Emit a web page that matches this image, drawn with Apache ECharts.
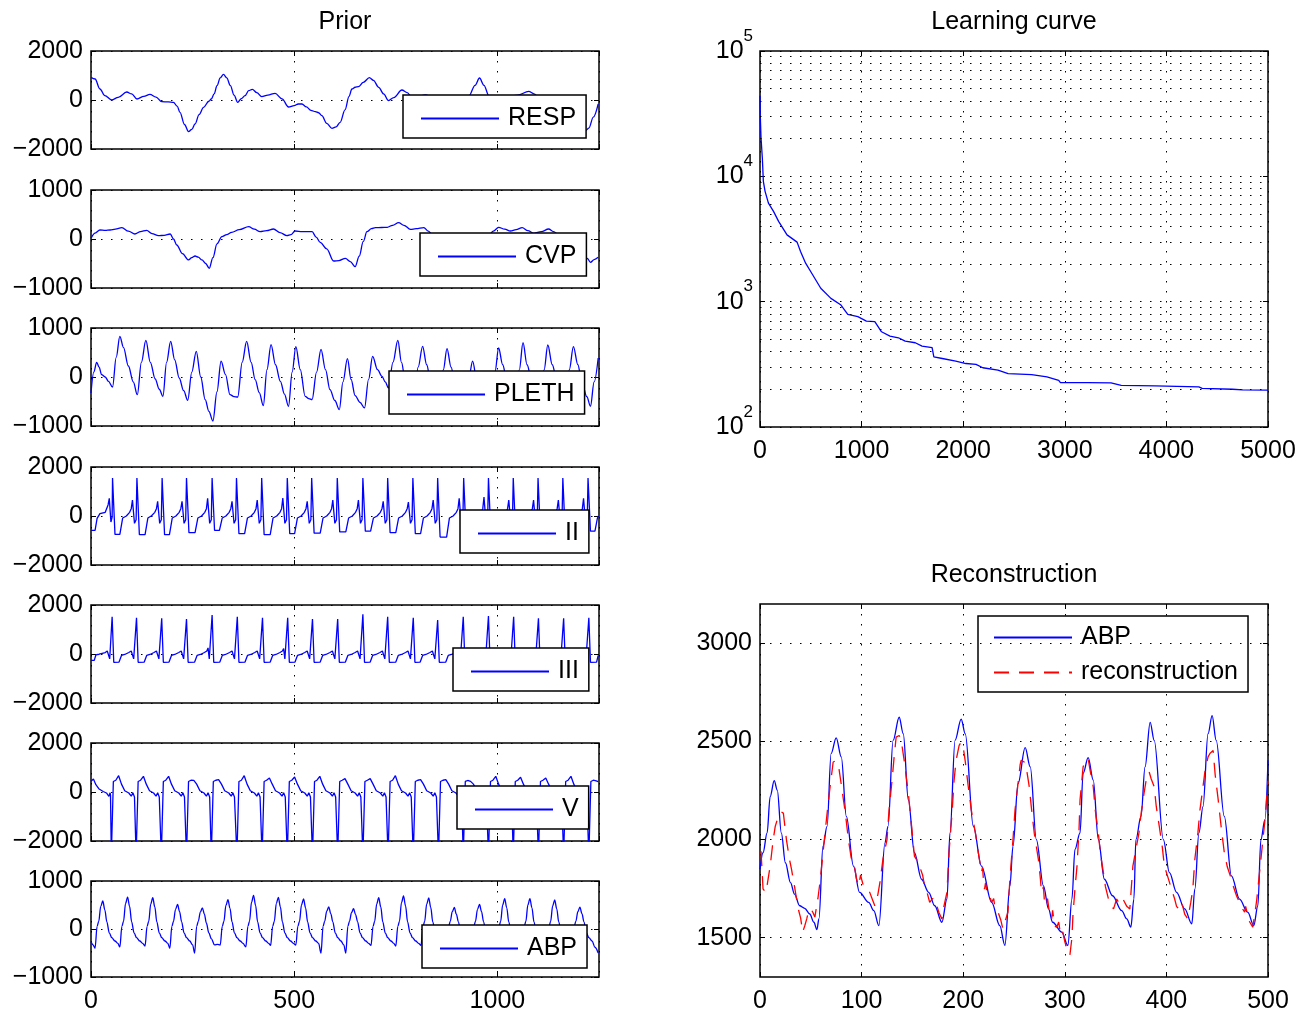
<!DOCTYPE html>
<html>
<head>
<meta charset="utf-8">
<title>Prior / Learning curve / Reconstruction</title>
<script src="https://cdn.jsdelivr.net/npm/echarts@6/dist/echarts.min.js"></script>
<style>
  html, body { margin: 0; padding: 0; background: #fff; }
  #chart { width: 1305px; height: 1014px; }
</style>
</head>
<body>
<div id="chart"></div>
<script>
// ---- data: [sample, value] ----
const respData = [[0,925],[10,857],[22,450],[34,177],[51,0],[67,109],[88,326],[100,250],[113,41],[130,150],[145,231],[160,120],[174,-68],[190,-80],[203,-95],[212,-250],[219,-503],[230,-1000],[240,-1292],[248,-1200],[256,-979],[266,-600],[277,-299],[290,-50],[296,41],[303,250],[310,585],[318,900],[326,1047],[334,900],[343,585],[352,200],[361,-95],[370,60],[379,177],[388,380],[397,435],[408,300],[420,136],[435,200],[453,272],[470,50],[486,-286],[500,-230],[510,-163],[519,-163],[530,-280],[541,-420],[552,-476],[560,-520],[568,-639],[580,-950],[593,-1156],[603,-1100],[613,-911],[625,-400],[635,150],[642,449],[650,520],[658,544],[670,720],[685,911],[695,800],[708,517],[720,250],[732,-27],[745,100],[765,408],[778,300],[790,109],[805,150],[823,204],[840,120],[860,20],[880,40],[905,177],[930,170],[945,600],[956,898],[967,600],[979,177],[995,150],[1011,177],[1030,150],[1050,200],[1077,354],[1090,250],[1102,109],[1120,-40],[1140,-120],[1160,-280],[1180,-500],[1200,-850],[1217,-1251],[1225,-1150],[1236,-700],[1248,-163]];

const cvpData = [[0,14],[10,120],[22,184],[35,175],[47,184],[60,200],[76,231],[92,160],[108,102],[122,150],[137,177],[150,110],[166,68],[180,75],[195,102],[203,0],[211,-122],[225,-300],[240,-428],[248,-380],[256,-347],[264,-370],[273,-428],[282,-500],[291,-598],[300,-380],[310,-100],[322,48],[334,90],[346,136],[365,190],[388,252],[402,200],[416,150],[432,170],[449,204],[465,130],[482,68],[492,90],[502,163],[520,150],[544,150],[554,40],[564,-68],[580,-200],[597,-449],[610,-440],[626,-394],[638,-460],[650,-564],[660,-350],[670,-50],[679,150],[690,210],[700,231],[715,235],[729,238],[742,280],[757,333],[770,280],[786,197],[800,210],[819,231],[830,160],[839,102],[860,60],[880,70],[910,60],[940,60],[965,70],[979,82],[990,160],[1003,238],[1018,200],[1032,163],[1046,190],[1061,231],[1075,170],[1090,116],[1108,150],[1126,204],[1138,150],[1151,82],[1170,0],[1190,-150],[1205,-300],[1221,-394],[1229,-476],[1238,-420],[1248,-374]];

const plethData = [[0,-326],[7,100],[14,299],[20,200],[26,48],[35,0],[43,-88],[53,-204],[62,400],[71,830],[80,600],[92,224],[104,-100],[114,-360],[124,300],[135,748],[146,300],[158,-41],[168,-250],[177,-394],[186,300],[196,728],[206,350],[217,-20],[228,-280],[238,-476],[248,100],[259,524],[270,0],[281,-462],[290,-700],[300,-898],[310,-300],[320,326],[331,50],[342,-360],[352,-400],[361,-408],[372,300],[383,728],[394,300],[404,-54],[414,-320],[424,-585],[433,150],[443,660],[454,250],[466,-88],[476,-350],[486,-598],[495,100],[504,619],[515,150],[527,-394],[536,-440],[544,-462],[555,100],[566,564],[577,150],[588,-258],[600,-480],[611,-666],[620,-100],[631,374],[640,-50],[650,-381],[662,-520],[673,-632],[683,-50],[693,422],[705,150],[716,14],[724,-100],[732,-224],[743,300],[755,748],[764,300],[773,-54],[784,-300],[795,-400],[805,200],[816,626],[826,250],[836,-100],[848,-380],[858,-400],[867,150],[876,578],[886,200],[896,-150],[908,-380],[920,-400],[930,0],[939,326],[950,-100],[962,-380],[984,-400],[994,100],[1003,592],[1013,250],[1024,-100],[1035,-380],[1045,-420],[1054,150],[1063,700],[1073,250],[1085,-100],[1096,-380],[1106,-420],[1115,150],[1124,653],[1135,250],[1147,-100],[1158,-380],[1168,-420],[1177,150],[1187,619],[1198,250],[1208,-120],[1220,-400],[1229,-598],[1238,-100],[1248,388]];

const iiData = [[0,-585],[10,-585],[15,-100],[22,100],[35,150],[42,450],[45,720],[49,-245],[52,-41],[53,1550],[57,1550],[59,-750],
[71,-750],[78,-80],[87,0],[95,150],[99,300],[102,650],[107,-300],[111,-150],[113,1550],[117,1550],[119,-760],
[133,-760],[140,-80],[149,10],[157,150],[161,300],[164,600],[169,-300],[173,-150],[175,1550],[179,1550],[181,-760],
[193,-760],[200,-80],[209,0],[217,150],[221,300],[224,600],[229,-300],[233,-150],[235,1550],[239,1550],[241,-680],
[256,-680],[263,-80],[272,0],[280,150],[284,300],[287,720],[292,-300],[296,-150],[298,1550],[302,1550],[304,-585],
[316,-585],[323,-80],[332,0],[340,150],[344,300],[347,600],[352,-300],[356,-150],[358,1550],[362,1550],[364,-720],
[378,-720],[385,-80],[394,0],[402,150],[406,300],[409,650],[414,-300],[418,-150],[420,1550],[424,1550],[426,-760],
[441,-760],[448,-80],[457,0],[465,150],[469,300],[472,735],[477,-300],[481,-150],[483,1550],[487,1550],[489,-720],
[501,-720],[508,-80],[517,0],[525,150],[529,300],[532,600],[537,-300],[541,-150],[543,1550],[547,1550],[549,-700],
[564,-700],[571,-80],[580,0],[588,150],[592,300],[595,650],[600,-300],[604,-150],[606,1550],[610,1550],[612,-650],
[627,-650],[634,-80],[643,0],[651,150],[655,300],[658,650],[663,-300],[667,-150],[669,1550],[673,1550],[675,-620],
[688,-620],[695,-80],[704,0],[712,150],[716,300],[719,600],[724,-300],[728,-150],[730,1550],[734,1550],[736,-680],
[750,-680],[757,-80],[766,0],[774,150],[778,300],[781,570],[786,-300],[790,-150],[792,1550],[796,1550],[798,-720],
[811,-720],[818,-80],[827,0],[835,150],[839,300],[842,650],[847,-300],[851,-150],[853,1550],[857,1550],[859,-860],
[875,-860],[882,-80],[891,0],[899,150],[903,300],[906,720],[911,-300],[915,-150],[917,1550],[921,1550],[923,-750],
[936,-750],[943,-80],[952,0],[960,150],[964,300],[967,775],[972,-300],[976,-150],[978,1550],[982,1550],[984,-750],
[997,-750],[1004,-80],[1013,0],[1021,150],[1025,300],[1028,650],[1033,-300],[1037,-150],[1039,1550],[1043,1550],[1045,-750],
[1058,-750],[1065,-80],[1074,0],[1082,150],[1086,300],[1089,650],[1094,-300],[1098,-150],[1100,1550],[1104,1550],[1106,-750],
[1119,-750],[1126,-80],[1135,0],[1143,150],[1147,300],[1150,650],[1155,-300],[1159,-150],[1161,1550],[1165,1550],[1167,-750],
[1181,-750],[1188,-80],[1197,0],[1205,150],[1209,300],[1212,720],[1217,-300],[1221,-150],[1223,1550],[1227,1550],[1229,-620],[1240,-620],[1246,-100],[1248,0]];

const iiiData = [[0,-258],[8,-258],[12,-40],[20,-10],[35,60],[40,120],[43,190],[46,-200],[50,-120],[52,1523],[54,1523],[56,-340],
[69,-330],[75,-60],[83,-20],[93,60],[99,120],[102,200],[105,-200],[109,-120],[112,1482],[114,1482],[116,-340],
[131,-330],[137,-60],[145,-20],[155,60],[161,120],[164,200],[167,-200],[171,-120],[174,1455],[176,1455],[178,-340],
[192,-330],[198,-60],[206,-20],[216,60],[222,120],[225,200],[228,-200],[232,-120],[235,1428],[237,1428],[239,-340],
[255,-330],[261,-60],[269,-20],[279,60],[285,120],[288,250],[291,-200],[295,-120],[298,1591],[300,1591],[302,-340],
[317,-330],[323,-60],[331,-20],[341,60],[347,120],[350,200],[353,-200],[357,-120],[360,1523],[362,1523],[364,-340],
[379,-330],[385,-60],[393,-20],[403,60],[409,120],[412,200],[415,-200],[419,-120],[422,1482],[424,1482],[426,-340],
[441,-330],[447,-60],[455,-20],[465,60],[471,120],[474,220],[477,-200],[481,-120],[484,1482],[486,1482],[488,-340],
[502,-330],[508,-60],[516,-20],[526,60],[532,120],[535,200],[538,-200],[542,-120],[545,1428],[547,1428],[549,-340],
[564,-330],[570,-60],[578,-20],[588,60],[594,120],[597,200],[600,-200],[604,-120],[607,1428],[609,1428],[611,-340],
[626,-330],[632,-60],[640,-20],[650,60],[656,120],[659,200],[662,-200],[666,-120],[669,1618],[671,1618],[673,-340],
[687,-330],[693,-60],[701,-20],[711,60],[717,120],[720,200],[723,-200],[727,-120],[730,1523],[732,1523],[734,-340],
[750,-330],[756,-60],[764,-20],[774,60],[780,120],[783,200],[786,-200],[790,-120],[793,1482],[795,1482],[797,-340],
[810,-330],[816,-60],[824,-20],[834,60],[840,120],[843,200],[846,-200],[850,-120],[853,1387],[855,1387],[857,-340],
[873,-330],[879,-60],[887,-20],[897,60],[903,120],[906,200],[909,-200],[913,-120],[916,1523],[918,1523],[920,-340],
[935,-330],[941,-60],[949,-20],[959,60],[965,120],[968,200],[971,-200],[975,-120],[978,1550],[980,1550],[982,-340],
[997,-330],[1003,-60],[1011,-20],[1021,60],[1027,120],[1030,200],[1033,-200],[1037,-120],[1040,1523],[1042,1523],[1044,-340],
[1058,-330],[1064,-60],[1072,-20],[1082,60],[1088,120],[1091,200],[1094,-200],[1098,-120],[1101,1455],[1103,1455],[1105,-340],
[1120,-330],[1126,-60],[1134,-20],[1144,60],[1150,120],[1153,200],[1156,-200],[1160,-120],[1163,1455],[1165,1455],[1167,-340],
[1182,-330],[1188,-60],[1196,-20],[1206,60],[1212,120],[1215,200],[1218,-200],[1222,-120],[1225,1482],[1227,1482],[1229,-340],[1244,-330],[1248,-60]];

const vData = [[0,435],[6,530],[12,300],[20,120],[30,20],[38,-40],[44,-177],[47,-30],
[48,-150],[50,-2600],[53,-2600],[55,430],[61,480],[68,666],[75,320],[83,50],[93,-40],[99,-170],[103,-30],[107,-200],
[109,-150],[111,-2600],[114,-2600],[116,430],[122,480],[129,640],[136,320],[144,50],[154,-40],[160,-170],[164,-30],[168,-200],
[171,-150],[173,-2600],[176,-2600],[178,430],[184,480],[191,640],[198,320],[206,50],[216,-40],[222,-170],[226,-30],[230,-200],
[233,-150],[235,-2600],[238,-2600],[240,430],[246,480],[253,476],[260,320],[268,50],[278,-40],[284,-170],[288,-30],[292,-200],
[294,-150],[296,-2600],[299,-2600],[301,430],[307,480],[314,503],[321,320],[329,50],[339,-40],[345,-170],[349,-30],[353,-200],
[357,-150],[359,-2600],[362,-2600],[364,430],[370,480],[377,666],[384,320],[392,50],[402,-40],[408,-170],[412,-30],[416,-200],
[419,-150],[421,-2600],[424,-2600],[426,430],[432,480],[439,571],[446,320],[454,50],[464,-40],[470,-170],[474,-30],[478,-200],
[481,-150],[483,-2600],[486,-2600],[488,430],[494,480],[501,612],[508,320],[516,50],[526,-40],[532,-170],[536,-30],[540,-200],
[543,-150],[545,-2600],[548,-2600],[550,430],[556,480],[563,640],[570,320],[578,50],[588,-40],[594,-170],[598,-30],[602,-200],
[605,-150],[607,-2600],[610,-2600],[612,430],[618,480],[625,544],[632,320],[640,50],[650,-40],[656,-170],[660,-30],[664,-200],
[667,-150],[669,-2600],[672,-2600],[674,430],[680,480],[687,544],[694,320],[702,50],[712,-40],[718,-170],[722,-30],[726,-200],
[729,-150],[731,-2600],[734,-2600],[736,430],[742,480],[749,666],[756,320],[764,50],[774,-40],[780,-170],[784,-30],[788,-200],
[791,-150],[793,-2600],[796,-2600],[798,430],[804,480],[811,503],[818,320],[826,50],[836,-40],[842,-170],[846,-30],[850,-200],
[853,-150],[855,-2600],[858,-2600],[860,430],[866,480],[873,503],[880,320],[888,50],[898,-40],[904,-170],[908,-30],[912,-200],
[914,-150],[916,-2600],[919,-2600],[921,430],[927,470],[934,435],[941,320],[949,50],[959,-40],[965,-170],[969,-30],[973,-200],
[976,-150],[978,-2600],[981,-2600],[983,430],[989,480],[996,640],[1003,320],[1011,50],[1021,-40],[1027,-170],[1031,-30],[1035,-200],
[1037,-150],[1039,-2600],[1042,-2600],[1044,430],[1050,480],[1057,600],[1064,320],[1072,50],[1082,-40],[1088,-170],[1092,-30],[1096,-200],
[1099,-150],[1101,-2600],[1104,-2600],[1106,430],[1112,480],[1119,571],[1126,320],[1134,50],[1144,-40],[1150,-170],[1154,-30],[1158,-200],
[1161,-150],[1163,-2600],[1166,-2600],[1168,430],[1174,480],[1181,640],[1188,320],[1196,50],[1206,-40],[1212,-170],[1216,-30],[1220,-200],
[1223,-150],[1225,-2600],[1228,-2600],[1230,430],[1236,480],[1243,450],[1248,420]];

const abpData = [[0,-260],[5,-330],
[10,-401],[15,54],[19,160],[24,470],[29,585],[34,400],[39,150],[45,-80],[51,-180],[59,-250],[66,-300],
[71,-374],[76,54],[80,160],[85,530],[90,666],[95,470],[100,150],[106,-80],[112,-180],[120,-250],[127,-300],
[133,-354],[138,54],[142,160],[147,520],[152,653],[157,460],[162,150],[168,-80],[174,-180],[182,-250],[189,-300],
[194,-401],[199,54],[203,160],[208,410],[213,510],[218,360],[223,150],[229,-80],[235,-180],[243,-250],[250,-330],
[255,-503],[260,54],[264,160],[269,350],[274,442],[279,310],[284,120],[290,-80],[296,-200],[304,-330],[311,-320],
[318,-333],[323,54],[327,160],[332,490],[337,612],[342,430],[347,150],[353,-80],[359,-180],[367,-250],[374,-300],
[381,-374],[386,54],[390,160],[395,560],[400,700],[405,490],[410,150],[416,-80],[422,-180],[430,-250],[437,-300],
[442,-340],[447,54],[451,160],[456,530],[461,660],[466,460],[471,150],[477,-80],[483,-180],[491,-250],[498,-300],
[504,-333],[509,54],[513,160],[518,500],[523,626],[528,440],[533,150],[539,-80],[545,-180],[553,-250],[560,-300],
[566,-503],[571,54],[575,160],[580,370],[585,462],[590,320],[595,150],[601,-80],[607,-180],[615,-250],[622,-330],
[627,-503],[632,54],[636,160],[641,340],[646,422],[651,300],[656,150],[662,-80],[668,-180],[676,-250],[683,-300],
[689,-340],[694,54],[698,160],[703,520],[708,653],[713,460],[718,150],[724,-80],[730,-180],[738,-250],[745,-300],
[750,-354],[755,54],[759,160],[764,550],[769,687],[774,480],[779,150],[785,-80],[791,-180],[799,-250],[806,-300],
[812,-340],[817,54],[821,160],[826,520],[831,646],[836,450],[841,150],[847,-80],[853,-180],[861,-250],[868,-300],
[875,-380],[880,54],[884,160],[889,360],[894,449],[899,310],[904,150],[910,-80],[916,-180],[924,-250],[931,-300],
[937,-374],[942,54],[946,160],[951,410],[956,510],[961,360],[966,150],[972,-80],[978,-180],[986,-250],[993,-300],
[999,-354],[1004,54],[1008,160],[1013,500],[1018,632],[1023,440],[1028,150],[1034,-80],[1040,-180],[1048,-250],[1055,-300],
[1061,-354],[1066,54],[1070,160],[1075,500],[1080,632],[1085,440],[1090,150],[1096,-80],[1102,-180],[1110,-250],[1117,-300],
[1122,-374],[1127,54],[1131,160],[1136,480],[1141,605],[1146,420],[1151,150],[1157,-80],[1163,-180],[1171,-250],[1178,-300],
[1184,-380],[1189,54],[1193,160],[1198,360],[1203,456],[1208,320],[1213,150],[1219,-80],[1225,-180],[1233,-250],[1240,-380],[1248,-503]];

const learnData = [[0,44000],[3,30000],[10,20270],[23,14000],[33,9120],[50,7590],[83,6120],[133,5250],[183,4370],[266,3410],[365,2985],[399,2510],[449,2027],[515,1655],[598,1279],[698,1063],[797,940],[864,792],[963,759],[1047,700],[1130,692],[1196,575],[1279,531],[1362,515],[1429,484],[1528,470],[1595,442],[1694,429],[1711,363],[1794,352],[1927,335],[2027,321],[2126,316],[2193,297],[2342,284],[2442,267],[2674,262],[2824,251],[2940,236],[2957,226],[3223,226],[3455,225],[3555,215],[3887,213],[4319,209],[4352,203],[4651,200],[4751,198],[5000,197]];

const reconAbp = [[0,1849],[3,1933],[7,2034],[10,2219],[14,2300],[17,2252],[21,2034],[25,1882],[30,1781],[34,1722],[39,1663],[44,1650],[49,1621],[53,1579],[56,1541],[58,1596],[62,1966],[66,2067],[70,2438],[75,2518],[80,2421],[85,2118],[92,1865],[98,1731],[107,1680],[112,1638],[117,1562],[123,1983],[126,2067],[131,2505],[137,2623],[141,2539],[146,2202],[152,1933],[159,1798],[166,1731],[172,1663],[179,1579],[184,1697],[187,2034],[192,2505],[198,2614],[202,2539],[210,2067],[218,1865],[228,1680],[236,1562],[241,1461],[246,1764],[249,1966],[254,2286],[261,2468],[266,2370],[272,2000],[279,1764],[284,1647],[288,1579],[297,1529],[303,1461],[307,1697],[310,1950],[315,2034],[318,2337],[323,2417],[328,2303],[333,2000],[339,1798],[347,1714],[356,1638],[361,1596],[365,1554],[368,1697],[370,2000],[375,2118],[379,2370],[384,2597],[388,2505],[397,2000],[403,1832],[410,1731],[418,1647],[425,1571],[428,1748],[432,2034],[436,2168],[441,2539],[445,2631],[449,2505],[457,2118],[464,1815],[472,1697],[480,1630],[486,1562],[490,1663],[493,2000],[497,2101],[500,2404]];

const reconEst = [[1,1941],[3,1748],[6,1731],[8,1800],[10,1865],[13,2000],[15,2067],[18,2118],[21,2140],[23,2135],[26,2000],[29,1900],[31,1849],[34,1760],[36,1697],[38,1640],[40,1600],[42,1529],[44,1560],[46,1596],[48,1640],[50,1647],[52,1630],[54,1605],[57,1700],[59,1781],[62,1930],[64,2034],[67,2180],[69,2269],[72,2395],[74,2400],[77,2387],[80,2280],[84,2135],[87,2000],[90,1899],[92,1880],[93,1865],[95,1800],[97,1764],[99,1820],[100,1798],[102,1760],[103,1764],[105,1740],[108,1731],[111,1690],[113,1663],[116,1720],[118,1781],[121,1900],[125,2000],[127,2150],[130,2303],[132,2420],[134,2522],[137,2530],[139,2505],[142,2400],[146,2236],[149,2080],[152,1916],[155,1890],[157,1865],[160,1820],[162,1764],[164,1740],[167,1680],[170,1700],[172,1663],[174,1663],[176,1630],[179,1596],[181,1660],[184,1731],[186,1930],[189,2135],[191,2300],[193,2404],[196,2480],[198,2496],[200,2471],[202,2400],[205,2269],[208,2150],[212,2034],[215,1930],[218,1832],[219,1860],[220,1790],[221,1748],[222,1780],[224,1714],[226,1714],[228,1680],[230,1700],[231,1663],[233,1650],[234,1647],[237,1590],[239,1546],[241,1580],[244,1630],[246,1800],[249,2000],[251,2150],[254,2286],[256,2380],[257,2404],[260,2395],[262,2370],[265,2270],[267,2168],[270,2030],[274,1899],[276,1800],[277,1731],[279,1760],[280,1680],[282,1663],[283,1700],[285,1620],[287,1596],[288,1640],[290,1560],[292,1554],[294,1580],[296,1512],[298,1530],[300,1480],[302,1445],[305,1411],[307,1500],[308,1613],[310,1750],[312,1865],[314,2050],[315,2202],[318,2370],[320,2400],[323,2412],[325,2350],[328,2269],[330,2150],[333,2034],[335,1930],[338,1832],[340,1760],[343,1697],[345,1670],[348,1647],[351,1697],[353,1680],[356,1706],[358,1690],[361,1660],[364,1647],[367,1865],[370,1950],[373,2034],[375,2130],[378,2236],[380,2300],[383,2345],[385,2310],[388,2269],[390,2170],[393,2067],[396,1960],[398,1865],[402,1800],[405,1748],[408,1700],[410,1660],[412,1647],[414,1680],[416,1663],[418,1620],[421,1596],[424,1680],[426,1748],[428,1900],[431,2034],[433,2150],[436,2269],[438,2350],[441,2421],[443,2440],[446,2454],[448,2330],[451,2202],[454,2060],[457,1933],[460,1860],[464,1798],[466,1760],[469,1714],[471,1690],[473,1660],[475,1647],[477,1630],[478,1660],[480,1613],[482,1580],[485,1554],[487,1620],[489,1697],[492,1849],[495,2000],[497,2100],[499,2236],[500,2300]];

// tick / grid values
const logMinorGrid = [200,300,400,500,600,700,800,900,2000,3000,4000,5000,6000,7000,8000,9000,20000,30000,40000,50000,60000,70000,80000,90000];
const reconYTicks = [1500, 2000, 2500, 3000];

// ---- styling ----
const FONT = 'Liberation Sans';
const FS = 25;
const BLUE = '#0000ff';
const RED = '#ff0000';
const dotted = { color: '#000', width: 1, type: [1.5, 8.5] };
const tick = { inside: true, length: 5, lineStyle: { color: '#000', width: 1 } };
const minus = v => (v < 0 ? '\u2212' + Math.abs(v) : String(v));
const labelStyle = { fontFamily: FONT, fontSize: FS, color: '#000' };

const grids = [], xAxes = [], yAxes = [], series = [], legends = [];

function addGrid(rect) {
  grids.push(Object.assign({ show: true, borderColor: '#000', borderWidth: 1.5, backgroundColor: 'transparent' }, rect));
  return grids.length - 1;
}

// bottom+top x axes, left+right y axes; returns indices of the main ones
function addAxes(gi, xo, yo) {
  const xi = xAxes.length;
  xAxes.push(Object.assign({
    gridIndex: gi, type: 'value', position: 'bottom',
    axisLine: { show: false, onZero: false }, axisTick: tick,
    axisLabel: Object.assign({ show: !!xo.labels, margin: 12, formatter: minus }, labelStyle, xo.label || {}),
    splitLine: { show: true, lineStyle: dotted }
  }, xo.scale));
  xAxes.push(Object.assign({
    gridIndex: gi, type: 'value', position: 'top',
    axisLine: { show: false, onZero: false }, axisTick: tick,
    axisLabel: { show: false }, splitLine: { show: false }
  }, xo.scale));
  const yi = yAxes.length;
  yAxes.push(Object.assign({
    gridIndex: gi, type: 'value', position: 'left',
    axisLine: { show: false, onZero: false }, axisTick: yo.tick || tick,
    axisLabel: Object.assign({ show: true, margin: 8, padding: [4, 0, 0, 0], formatter: minus }, labelStyle, yo.label || {}),
    splitLine: { show: yo.split !== false, lineStyle: dotted }
  }, yo.scale));
  yAxes.push(Object.assign({
    gridIndex: gi, type: 'value', position: 'right',
    axisLine: { show: false, onZero: false }, axisTick: yo.tick || tick,
    axisLabel: { show: false }, splitLine: { show: false }
  }, yo.scale));
  return [xi, yi];
}

function lineSeries(name, data, xi, yi, color, extra) {
  return Object.assign({
    name, type: 'line', data, xAxisIndex: xi, yAxisIndex: yi,
    symbol: 'none', showSymbol: false, clip: true, silent: true, animation: false,
    lineStyle: { color, width: 1.3 }, itemStyle: { color }
  }, extra || {});
}

function addLegend(names, left, top, pad) {
  legends.push({
    data: names, left, top, orient: 'vertical', selectedMode: false,
    padding: pad || [11, 10, 7, 17], itemWidth: 78, itemHeight: 12, itemGap: 10,
    borderColor: '#000', borderWidth: 1.5, backgroundColor: '#fff',
    itemStyle: { opacity: 0 },
    textStyle: Object.assign({ padding: [0, 0, 0, 4] }, labelStyle)
  });
}

const smoothOpt = { smooth: 0.35, smoothMonotone: 'x' };

// ---- left column: the prior signals ----
const panels = [
  { name: 'RESP',  data: respData,  lim: 2000, top: 51,  leg: [403, 95],  smooth: true },
  { name: 'CVP',   data: cvpData,   lim: 1000, top: 190, leg: [420, 233], smooth: true },
  { name: 'PLETH', data: plethData, lim: 1000, top: 328, leg: [389, 371], smooth: true },
  { name: 'II',    data: iiData,    lim: 2000, top: 467, leg: [460, 510], smooth: false },
  { name: 'III',   data: iiiData,   lim: 2000, top: 605, leg: [453, 648], smooth: false },
  { name: 'V',     data: vData,     lim: 2000, top: 743, leg: [457, 786], smooth: false },
  { name: 'ABP',   data: abpData,   lim: 1000, top: 881, leg: [422, 925], smooth: true }
];

panels.forEach((p, k) => {
  const gi = addGrid({ left: 91, top: p.top, width: 508, height: 98 });
  const [xi, yi] = addAxes(gi,
    { scale: { min: 0, max: 1250, interval: 500 }, labels: k === panels.length - 1, label: { showMaxLabel: false } },
    { scale: { min: -p.lim, max: p.lim, interval: p.lim } });
  series.push(lineSeries(p.name, p.data, xi, yi, BLUE, p.smooth ? smoothOpt : null));
  addLegend([p.name], p.leg[0], p.leg[1]);
});

// ---- learning curve (log y) ----
{
  const gi = addGrid({ left: 760, top: 51, width: 508, height: 376 });
  const [xi, yi] = addAxes(gi,
    { scale: { min: 0, max: 5000, interval: 1000 }, labels: true },
    {
      scale: { type: 'log', logBase: 10, min: 100, max: 100000 },
      label: {
        margin: 7,
        padding: 0,
        formatter: v => '{b|10}{s|' + Math.round(Math.log10(v)) + '}',
        rich: {
          b: { fontFamily: FONT, fontSize: FS, color: '#000', verticalAlign: 'middle' },
          s: { fontFamily: FONT, fontSize: 17, color: '#000', verticalAlign: 'middle', padding: [0, 0, 30, 0] }
        }
      }
    });
  series.push(lineSeries('Learning curve', learnData, xi, yi, BLUE, {
    markLine: {
      silent: true, animation: false, symbol: ['none', 'none'],
      label: { show: false }, lineStyle: dotted,
      data: logMinorGrid.map(v => ({ yAxis: v }))
    }
  }));
}

// ---- reconstruction ----
{
  const gi = addGrid({ left: 760, top: 604, width: 508, height: 375 });
  const [xi, yi] = addAxes(gi,
    { scale: { min: 0, max: 500, interval: 100 }, labels: true },
    {
      scale: { min: 1300, max: 3200 },
      split: false,
      tick: Object.assign({ customValues: reconYTicks }, tick),
      label: { customValues: reconYTicks }
    });
  yAxes[yi + 1].axisTick = Object.assign({ customValues: reconYTicks }, tick);
  series.push(lineSeries('ABP', reconAbp, xi, yi, BLUE, Object.assign({
    markLine: {
      silent: true, animation: false, symbol: ['none', 'none'],
      label: { show: false }, lineStyle: dotted,
      data: reconYTicks.map(v => ({ yAxis: v }))
    }
  }, smoothOpt)));
  series.push(lineSeries('reconstruction', reconEst, xi, yi, RED, {
    lineStyle: { color: RED, width: 1.3, type: [15, 10] }
  }));
  addLegend(['ABP', 'reconstruction'], 978, 616, [9, 10, 7, 15]);
}

const titleText = (text, x, y) => ({
  type: 'text', x, y, silent: true,
  style: { text, fill: '#000', fontFamily: FONT, fontSize: FS, align: 'center', verticalAlign: 'middle', textAlign: 'center', textVerticalAlign: 'middle' }
});

const chart = echarts.init(document.getElementById('chart'), null, { renderer: 'canvas' });
chart.setOption({
  animation: false,
  backgroundColor: '#fff',
  grid: grids,
  xAxis: xAxes,
  yAxis: yAxes,
  legend: legends,
  series: series,
  graphic: [
    titleText('Prior', 345, 22),
    titleText('Learning curve', 1014, 22),
    titleText('Reconstruction', 1014, 575)
  ]
});
</script>
</body>
</html>
